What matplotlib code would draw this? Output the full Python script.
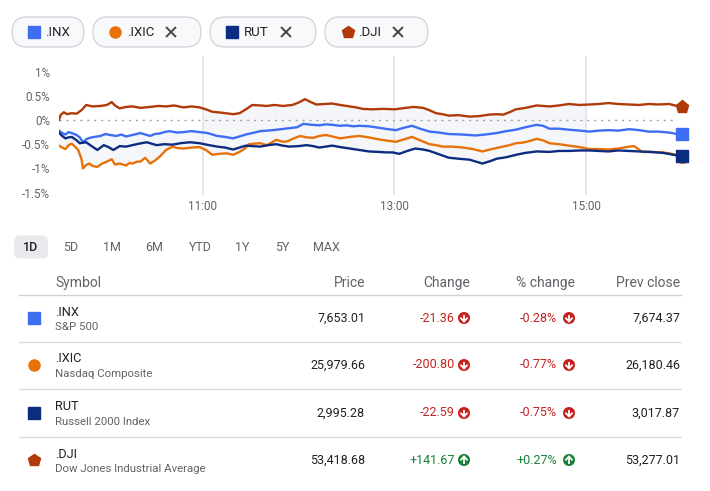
import numpy as np
import matplotlib
matplotlib.use('Agg')
import matplotlib.pyplot as plt
from matplotlib.patches import FancyBboxPatch, Circle

plt.rcParams['font.family'] = ['Roboto', 'DejaVu Sans']

# ---------------- data (minutes after 9:30, % change) ----------------
inx_t = [0, 2, 4, 6, 8, 11, 13, 15, 17, 19, 22, 26, 29, 32, 36, 39, 42, 46, 51, 54, 57, 60,
         63, 66, 69, 74, 78, 83, 88, 93, 99, 104, 109, 113, 117, 121, 126, 130, 134, 139,
         144, 149, 153, 158, 163, 167, 171, 176, 180, 184, 188, 194, 200, 206, 211, 216, 221,
         226, 232, 238, 244, 252, 261, 267, 274, 280, 286, 292, 299, 303, 307, 313, 319, 326,
         332, 338, 344, 350, 357, 363, 369, 375, 382, 387, 390]
inx_v = [-0.22, -0.27, -0.30, -0.25, -0.27, -0.31, -0.36, -0.46, -0.40, -0.37, -0.35, -0.33,
         -0.29, -0.31, -0.33, -0.30, -0.34, -0.31, -0.27, -0.30, -0.33, -0.29, -0.28, -0.25,
         -0.23, -0.26, -0.25, -0.23, -0.25, -0.27, -0.33, -0.35, -0.38, -0.34, -0.30, -0.27,
         -0.23, -0.22, -0.21, -0.19, -0.17, -0.15, -0.08, -0.10, -0.11, -0.09, -0.10, -0.12,
         -0.11, -0.13, -0.12, -0.13, -0.16, -0.19, -0.21, -0.16, -0.12, -0.18, -0.24, -0.26,
         -0.29, -0.30, -0.32, -0.30, -0.27, -0.23, -0.20, -0.15, -0.10, -0.12, -0.18, -0.18,
         -0.20, -0.22, -0.24, -0.22, -0.21, -0.22, -0.19, -0.21, -0.24, -0.24, -0.26, -0.29,
         -0.28]

ixic_t = [0, 2, 4, 6, 8, 10, 12, 14, 15, 17, 19, 21, 24, 27, 30, 33, 35, 38, 42, 44, 46, 49,
          51, 54, 57, 60, 63, 67, 71, 74, 78, 83, 88, 92, 96, 100, 105, 109, 113, 116, 119,
          122, 126, 130, 133, 136, 140, 143, 147, 151, 155, 159, 163, 167, 171, 176, 182,
          188, 194, 200, 206, 211, 216, 221, 226, 232, 236, 240, 246, 253, 259, 265, 271,
          278, 282, 286, 290, 294, 299, 303, 307, 313, 319, 326, 332, 338, 344, 350, 357,
          360, 365, 371, 378, 382, 386, 388, 390]
ixic_v = [-0.53, -0.57, -0.60, -0.52, -0.49, -0.55, -0.62, -0.80, -1.00, -0.93, -0.90, -0.95,
          -0.97, -0.90, -0.86, -0.81, -0.92, -0.90, -0.94, -0.89, -0.90, -0.86, -0.86, -0.78,
          -0.90, -0.84, -0.76, -0.62, -0.55, -0.58, -0.59, -0.57, -0.56, -0.62, -0.72, -0.70,
          -0.69, -0.72, -0.66, -0.60, -0.50, -0.49, -0.48, -0.52, -0.47, -0.41, -0.45, -0.44,
          -0.38, -0.33, -0.36, -0.37, -0.33, -0.31, -0.34, -0.38, -0.35, -0.33, -0.36, -0.40,
          -0.43, -0.45, -0.40, -0.35, -0.42, -0.50, -0.52, -0.55, -0.55, -0.57, -0.60, -0.65,
          -0.60, -0.55, -0.52, -0.48, -0.47, -0.44, -0.39, -0.42, -0.48, -0.50, -0.53, -0.56,
          -0.60, -0.60, -0.61, -0.59, -0.55, -0.54, -0.66, -0.66, -0.67, -0.69, -0.72, -0.76,
          -0.77]

rut_t = [0, 2, 4, 6, 8, 11, 13, 15, 17, 20, 24, 28, 31, 34, 38, 42, 46, 50, 55, 58, 61, 66,
         71, 76, 82, 88, 94, 99, 104, 109, 113, 117, 121, 126, 131, 136, 140, 144, 150, 155,
         159, 163, 167, 171, 176, 180, 184, 188, 194, 200, 205, 209, 213, 218, 223, 228, 232,
         238, 244, 250, 257, 261, 265, 270, 274, 280, 286, 292, 299, 307, 313, 319, 326, 332,
         338, 344, 350, 357, 363, 370, 378, 385, 390]
rut_v = [-0.26, -0.33, -0.38, -0.36, -0.35, -0.42, -0.48, -0.47, -0.46, -0.53, -0.62, -0.52,
         -0.56, -0.62, -0.54, -0.55, -0.52, -0.49, -0.46, -0.49, -0.52, -0.50, -0.51, -0.48,
         -0.46, -0.48, -0.52, -0.55, -0.57, -0.61, -0.57, -0.53, -0.54, -0.55, -0.52, -0.50,
         -0.53, -0.55, -0.54, -0.52, -0.54, -0.57, -0.55, -0.53, -0.56, -0.58, -0.60, -0.62,
         -0.65, -0.66, -0.67, -0.67, -0.70, -0.64, -0.59, -0.61, -0.64, -0.71, -0.78, -0.80,
         -0.82, -0.86, -0.90, -0.85, -0.80, -0.77, -0.72, -0.68, -0.65, -0.66, -0.64, -0.64,
         -0.63, -0.63, -0.64, -0.65, -0.63, -0.64, -0.65, -0.66, -0.68, -0.72, -0.75]

dji_t = [0, 1, 3, 5, 8, 11, 14, 17, 21, 26, 30, 33, 35, 38, 42, 46, 51, 57, 62, 67, 72, 78,
         83, 88, 92, 96, 102, 109, 113, 117, 121, 126, 130, 135, 140, 146, 150, 154, 157,
         161, 166, 171, 176, 182, 186, 190, 196, 203, 210, 217, 222, 228, 232, 236, 240, 244,
         250, 257, 263, 269, 274, 278, 282, 286, 292, 299, 303, 307, 313, 319, 326, 332,
         338, 344, 350, 357, 363, 369, 375, 382, 388, 390]
dji_v = [0.00, 0.10, 0.16, 0.12, 0.14, 0.13, 0.20, 0.31, 0.28, 0.29, 0.31, 0.37, 0.30, 0.24,
         0.27, 0.28, 0.25, 0.27, 0.29, 0.28, 0.30, 0.26, 0.28, 0.26, 0.22, 0.17, 0.15, 0.12,
         0.14, 0.22, 0.31, 0.30, 0.29, 0.31, 0.29, 0.31, 0.36, 0.43, 0.38, 0.32, 0.33, 0.34,
         0.31, 0.28, 0.26, 0.23, 0.22, 0.23, 0.22, 0.25, 0.27, 0.25, 0.20, 0.14, 0.12, 0.09,
         0.10, 0.07, 0.08, 0.11, 0.12, 0.11, 0.16, 0.22, 0.25, 0.30, 0.29, 0.28, 0.30, 0.33,
         0.31, 0.32, 0.33, 0.35, 0.33, 0.32, 0.31, 0.33, 0.32, 0.33, 0.28, 0.27]

symbols = ['.INX', '.IXIC', 'RUT', '.DJI']
names = ['S&P 500', 'Nasdaq Composite', 'Russell 2000 Index', 'Dow Jones Industrial Average']
prices = ['7,653.01', '25,979.66', '2,995.28', '53,418.68']
changes = ['-21.36', '-200.80', '-22.59', '+141.67']
pct_changes = ['-0.28%', '-0.77%', '-0.75%', '+0.27%']
prev_close = ['7,674.37', '26,180.46', '3,017.87', '53,277.01']
headers = ['Symbol', 'Price', 'Change', '% change', 'Prev close']

y_ticks = [1, 0.5, 0, -0.5, -1, -1.5]
y_tick_labels = ['1%', '0.5%', '0%', '-0.5%', '-1%', '-1.5%']
x_ticks = [90, 210, 330]
x_tick_labels = ['11:00', '13:00', '15:00']
ranges = ['1D', '5D', '1M', '6M', 'YTD', '1Y', '5Y', 'MAX']

# ---------------- styles ----------------
colors = ['#3d6ef2', '#e8710a', '#0c2c80', '#b03a08']
markers = ['s', 'o', 's', 'p']
RED = '#c5221f'
GREEN = '#188038'
GRAY = '#5f6368'
LINE = '#dadce0'

W, H = 710, 491
fig = plt.figure(figsize=(W / 100, H / 100), dpi=100)
fig.patch.set_facecolor('white')

ui = fig.add_axes([0, 0, 1, 1])
ui.set_xlim(0, W)
ui.set_ylim(H, 0)
ui.axis('off')

# ---------------- legend pills ----------------
pills = [(12, 84), (93, 201), (210, 316), (325, 428)]
pill_marker_x = [34, 115, 232, 348]
pill_text_x = [45, 127, 244, 358]
pill_close_x = [None, 171, 286, 398]
cy = 32
for i, (x0, x1) in enumerate(pills):
    ui.add_patch(FancyBboxPatch((x0, cy - 15), x1 - x0, 30,
                                boxstyle='round,pad=0,rounding_size=15',
                                fc='#f8f9fb', ec='#d3d6dc', lw=1.0))
    ui.plot(pill_marker_x[i], cy, marker=markers[i], ms=8 if markers[i] != 'p' else 9,
            color=colors[i], mec=colors[i])
    ui.text(pill_text_x[i], cy, symbols[i], fontsize=9.5, color='#202124',
            va='center', ha='left')
    if pill_close_x[i] is not None:
        c = pill_close_x[i]
        ui.plot([c - 5, c + 5], [cy - 5, cy + 5], color='#444746', lw=1.4,
                solid_capstyle='butt')
        ui.plot([c - 5, c + 5], [cy + 5, cy - 5], color='#444746', lw=1.4,
                solid_capstyle='butt')

# ---------------- chart ----------------
ax = fig.add_axes([59 / W, 1 - 195 / H, 623 / W, 139 / H])
ax.set_facecolor('none')
ax.set_xlim(0, 390)
ax.set_ylim(-1.55, 1.322)
for s in ax.spines.values():
    s.set_visible(False)

series_t = [inx_t, ixic_t, rut_t, dji_t]
series_v = [inx_v, ixic_v, rut_v, dji_v]

# light envelope shading
grid = np.arange(0, 331)
interp = [np.interp(grid, t, v) for t, v in zip(series_t, series_v)]
stack = np.vstack(interp)
lo = stack.min(axis=0)
hi = np.where(grid < 90, interp[0], stack.max(axis=0))
ax.fill_between(grid, lo, hi, color='#f4f6f9', lw=0, zorder=0)

for g in x_ticks:
    ax.axvline(g, color='#e1e3e6', lw=1.2, zorder=1)
ax.plot([0, 386], [0, 0], color='#a0a4a8', lw=1.0, ls=(0, (1.5, 3.5)), zorder=1)

for t, v, c in zip(series_t, series_v, colors):
    ax.plot(t, v, color=c, lw=1.7, zorder=3, solid_joinstyle='round')

end_order = [1, 0, 2, 3]
for i in end_order:
    ax.plot(series_t[i][-1], series_v[i][-1], marker=markers[i],
            ms=8.5 if markers[i] != 'p' else 9.5, color=colors[i], mec=colors[i],
            zorder=5, clip_on=False)

ax.set_yticks(y_ticks, y_tick_labels)
ax.set_xticks(x_ticks, x_tick_labels)
ax.tick_params(axis='both', length=0, labelsize=8.4, labelcolor=GRAY)
ax.tick_params(axis='y', pad=6.5)
ax.tick_params(axis='x', pad=3.5)

# ---------------- range buttons ----------------
range_x = [31, 71, 112, 154, 200, 242, 282, 326]
ry = 247
ui.add_patch(FancyBboxPatch((14, ry - 11.5), 34, 23,
                            boxstyle='round,pad=0,rounding_size=6',
                            fc='#e8eaed', ec='none'))
for i, r in enumerate(ranges):
    ui.text(range_x[i], ry, r, fontsize=9, ha='center', va='center',
            color='#202124' if i == 0 else GRAY,
            fontweight='medium' if i == 0 else 'normal')

# ---------------- table ----------------
hy = 283
ui.text(55, hy, headers[0], fontsize=10, color=GRAY, ha='left', va='center')
col_right = [365, 470, 575, 680]
for j in range(1, 5):
    ui.text(col_right[j - 1], hy, headers[j], fontsize=10, color=GRAY,
            ha='right', va='center')
ui.plot([19, 681], [295, 295], color='#cfd2d7', lw=1.0)

row_y = [318, 365, 413, 460]
for i in range(4):
    y = row_y[i]
    ui.plot(34, y, marker=markers[i], ms=8 if markers[i] != 'p' else 9,
            color=colors[i], mec=colors[i])
    ui.text(55, y - 6, symbols[i], fontsize=9.2, color='#202124', ha='left',
            va='center')
    ui.text(55, y + 9, names[i], fontsize=8.2, color=GRAY, ha='left', va='center')
    ui.text(365, y, prices[i], fontsize=9, color='#202124', ha='right', va='center')
    up = changes[i].startswith('+')
    col = GREEN if up else RED
    ui.text(455, y, changes[i], fontsize=9, color=col, ha='right', va='center')
    ui.text(557, y, pct_changes[i], fontsize=9, color=col, ha='right', va='center')
    ui.text(680, y, prev_close[i], fontsize=9, color='#202124', ha='right', va='center')
    for cx in (464, 569):
        ui.add_patch(Circle((cx, y), 6, fc=col, ec='none'))
        d = -1 if up else 1
        ui.plot([cx, cx], [y - 3.5 * d, y + 3.2 * d], color='white', lw=1.3,
                solid_capstyle='butt')
        ui.plot([cx - 3, cx, cx + 3], [y + 0.3 * d, y + 3.5 * d, y + 0.3 * d],
                color='white', lw=1.3, solid_joinstyle='miter')
    if i < 3:
        ui.plot([19, 681], [y + 24, y + 24], color=LINE, lw=1.0)

fig.savefig('out.png', dpi=100)
